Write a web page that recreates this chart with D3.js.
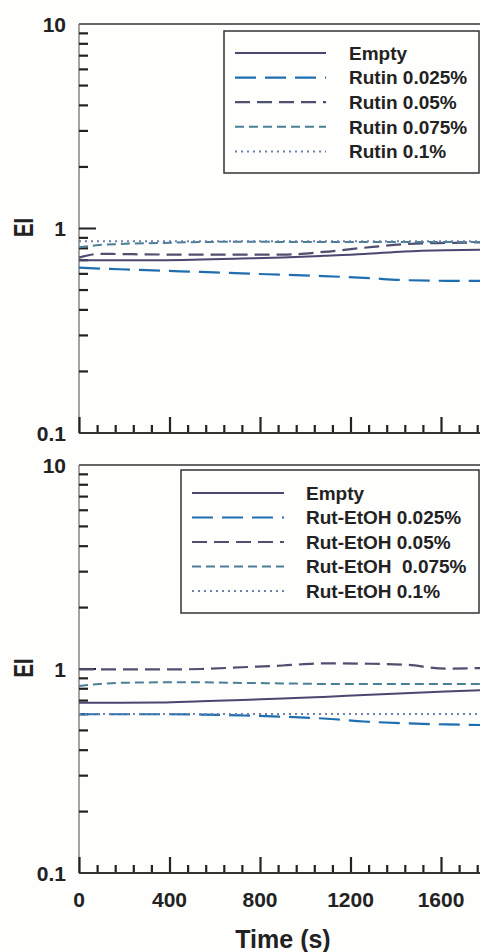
<!DOCTYPE html>
<html>
<head>
<meta charset="utf-8">
<script src="https://cdn.jsdelivr.net/npm/d3@7/dist/d3.min.js"></script>
<style>
  html, body { margin: 0; padding: 0; background: #fefefd; }
  svg { display: block; font-family: "Liberation Sans", Arial, sans-serif; }
</style>
</head>
<body>
<svg id="chart" width="480" height="952"></svg>
<script>
// Sampling times (s)
const times = [0, 90, 180, 360, 540, 720, 900, 1080, 1260, 1440, 1620, 1800];

// Upper panel: rutin
const rutinLabels = ["Empty", "Rutin 0.025%", "Rutin 0.05%", "Rutin 0.075%", "Rutin 0.1%"];
const rutinEmpty = [0.700, 0.700, 0.700, 0.700, 0.705, 0.713, 0.722, 0.735, 0.750, 0.772, 0.783, 0.788];
const rutin0025  = [0.643, 0.637, 0.632, 0.622, 0.613, 0.603, 0.594, 0.585, 0.574, 0.559, 0.555, 0.555];
const rutin005   = [0.720, 0.752, 0.750, 0.746, 0.745, 0.745, 0.745, 0.768, 0.805, 0.838, 0.850, 0.855];
const rutin0075  = [0.810, 0.830, 0.840, 0.850, 0.858, 0.862, 0.860, 0.860, 0.860, 0.860, 0.860, 0.860];
const rutin01    = [0.867, 0.867, 0.867, 0.867, 0.867, 0.867, 0.867, 0.867, 0.867, 0.867, 0.867, 0.867];

// Lower panel: rutin in ethanol
const etohLabels = ["Empty", "Rut-EtOH 0.025%", "Rut-EtOH 0.05%", "Rut-EtOH  0.075%", "Rut-EtOH 0.1%"];
const etohEmpty = [0.684, 0.684, 0.684, 0.685, 0.695, 0.705, 0.716, 0.730, 0.745, 0.760, 0.775, 0.790];
const etoh0025  = [0.600, 0.600, 0.600, 0.600, 0.598, 0.592, 0.584, 0.572, 0.553, 0.542, 0.535, 0.531];
const etoh005   = [0.996, 0.996, 0.995, 0.995, 1.000, 1.020, 1.040, 1.066, 1.062, 1.050, 1.005, 1.012];
const etoh0075  = [0.826, 0.845, 0.855, 0.860, 0.860, 0.855, 0.850, 0.845, 0.845, 0.845, 0.845, 0.845];
const etoh01    = [0.602, 0.602, 0.602, 0.602, 0.602, 0.602, 0.602, 0.602, 0.602, 0.602, 0.602, 0.602];

const xTickValues = [0, 400, 800, 1200, 1600];
const yTickValues = [0.1, 1, 10];
const yTickLabels = ["0.1", "1", "10"];

// Line styles per series (same order as the label arrays)
const styles = [
  { color: "#4a4870", dash: null,  width: 2 },
  { color: "#1f6eb0", dash: "21,9", width: 2.2 },
  { color: "#4f4f6f", dash: "15,7", width: 2.2 },
  { color: "#4a8096", dash: "9,5",  width: 2 },
  { color: "#6e7fae", dash: "2,4",  width: 2 }
];

const svg = d3.select("#chart");
const left = 79;
const x = d3.scaleLinear().domain([0, 2000]).range([left, left + 0.22625 * 2000]);

function panel(top, bottom, labels, series, legendBox, showX) {
  const y = d3.scaleLog().domain([0.1, 10]).range([bottom, top]);
  const g = svg.append("g");

  // frame: top border and left axis line
  g.append("line").attr("x1", left).attr("x2", 480).attr("y1", top).attr("y2", top)
    .attr("stroke", "#333").attr("stroke-width", 1.5);
  g.append("line").attr("x1", left).attr("x2", left).attr("y1", top).attr("y2", bottom)
    .attr("stroke", "#666").attr("stroke-width", 1.2);

  // y ticks (inside, pointing right)
  const minorY = [];
  [0.1, 1].forEach(d => { for (let k = 2; k <= 9; k++) minorY.push(d * k); });
  g.selectAll(".ymin").data(minorY).enter().append("line")
    .attr("x1", left).attr("x2", left + 9)
    .attr("y1", d => y(d)).attr("y2", d => y(d))
    .attr("stroke", "#222").attr("stroke-width", 2.2);
  g.append("line").attr("x1", left).attr("x2", left + 17)
    .attr("y1", y(1)).attr("y2", y(1)).attr("stroke", "#222").attr("stroke-width", 2);

  g.selectAll(".ylab").data(yTickValues).enter().append("text")
    .attr("x", 66).attr("y", d => y(d)).attr("dy", "0.36em")
    .attr("text-anchor", "end").attr("font-size", 21).attr("font-weight", "bold")
    .attr("fill", "#222").text((d, i) => yTickLabels[i]);

  // y axis title (tall, narrow lettering)
  g.append("text")
    .attr("transform", `translate(23,${y(1) - 1}) rotate(-90) scale(0.72,1)`)
    .attr("dy", "0.36em")
    .attr("text-anchor", "middle").attr("font-size", 28).attr("font-weight", "bold")
    .attr("fill", "#222").text("EI");

  // x axis with inward ticks
  const xAxis = d3.axisTop(x).tickValues(d3.range(0, 2001, 80)).tickSize(8).tickFormat("");
  const ax = g.append("g").attr("transform", `translate(0,${bottom})`).call(xAxis);
  ax.select(".domain").remove();
  ax.selectAll(".tick line").attr("stroke", "#222").attr("stroke-width", 2.2)
    .attr("y2", d => (d % 400 === 0 ? -16 : -8));
  g.append("line").attr("x1", left).attr("x2", 480).attr("y1", bottom).attr("y2", bottom)
    .attr("stroke", "#333").attr("stroke-width", 1.8);

  if (showX) {
    g.selectAll(".xlab").data(xTickValues).enter().append("text")
      .attr("x", d => x(d)).attr("y", bottom + 26).attr("dy", "0.36em")
      .attr("text-anchor", "middle").attr("font-size", 21).attr("font-weight", "bold")
      .attr("fill", "#222").text(d => d);
  }

  // data lines
  const line = d3.line().x((d, i) => x(times[i])).y(d => y(d)).curve(d3.curveMonotoneX);
  series.forEach((vals, i) => {
    const s = styles[i];
    g.append("path").datum(vals).attr("d", line)
      .attr("fill", "none").attr("stroke", s.color).attr("stroke-width", s.width)
      .attr("stroke-dasharray", s.dash);
  });

  // legend
  const lb = legendBox;
  g.append("rect").attr("x", lb.x).attr("y", lb.y).attr("width", lb.w).attr("height", lb.h)
    .attr("fill", "#fefefd").attr("stroke", "#333").attr("stroke-width", 1.5);
  labels.forEach((lab, i) => {
    const s = styles[i];
    const yy = lb.row0 + i * lb.step;
    g.append("line").attr("x1", lb.lx1).attr("x2", lb.lx2).attr("y1", yy).attr("y2", yy)
      .attr("stroke", s.color).attr("stroke-width", s.width).attr("stroke-dasharray", s.dash);
    g.append("text").attr("x", lb.tx).attr("y", yy).attr("dy", "0.36em")
      .attr("font-size", 19).attr("font-weight", "bold").attr("fill", "#222")
      .style("white-space", "pre").text(lab);
  });
}

panel(24, 433, rutinLabels, [rutinEmpty, rutin0025, rutin005, rutin0075, rutin01],
  { x: 224, y: 31, w: 255, h: 142, lx1: 235, lx2: 326, tx: 349, row0: 53, step: 24.6 }, false);
panel(465, 873, etohLabels, [etohEmpty, etoh0025, etoh005, etoh0075, etoh01],
  { x: 181, y: 470, w: 298, h: 143, lx1: 192, lx2: 284, tx: 306, row0: 493, step: 24.5 }, true);

svg.append("text").attr("x", 283).attr("y", 948)
  .attr("text-anchor", "middle").attr("font-size", 25).attr("font-weight", "bold")
  .attr("fill", "#222").text("Time (s)");
</script>
</body>
</html>
